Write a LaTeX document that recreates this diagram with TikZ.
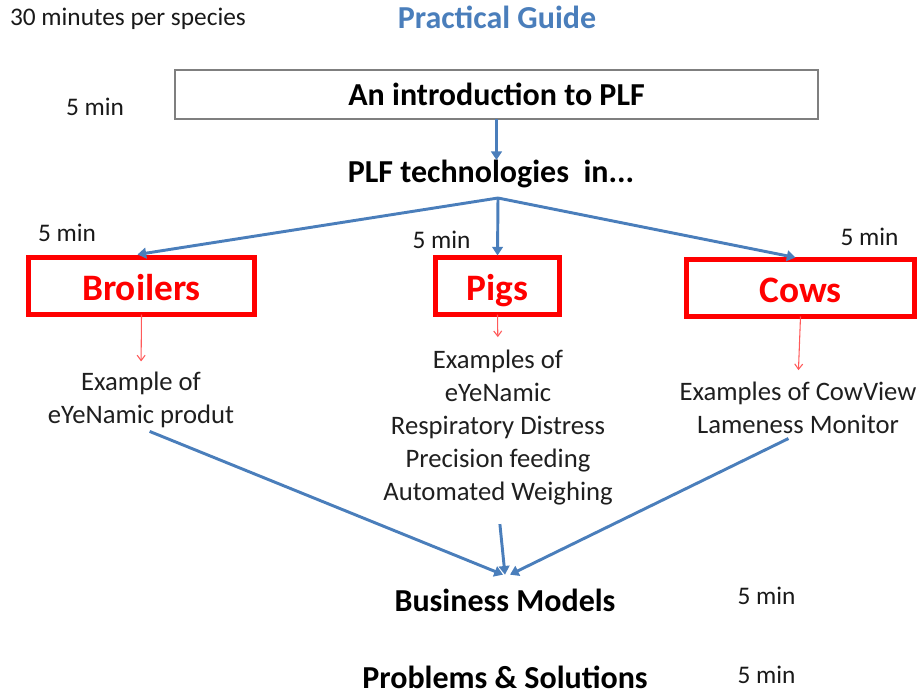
\documentclass[tikz,border=0pt]{standalone}
\usepackage{fontspec}
\setmainfont{Carlito}
\usetikzlibrary{arrows.meta,calc}
\definecolor{oblue}{HTML}{4A7EBB}
\definecolor{lred}{HTML}{FF5A5A}
\definecolor{sgray}{HTML}{7F7F7F}
\begin{document}
\begin{tikzpicture}[x=0.75pt,y=-0.75pt,
  every node/.style={inner sep=0pt, outer sep=0pt},
  small/.style={font=\fontsize{19}{23}\selectfont, text=black!90},
  body/.style={font=\fontsize{20}{24.75}\selectfont, align=center, text=black!88},
  head/.style={font=\fontsize{24}{29}\selectfont\bfseries, text=black},
  speciesbox/.style={draw=red, line width=3.75pt, font=\fontsize{28}{34}\selectfont\bfseries, text=red, minimum height=42.75pt, text height=21pt, text depth=0pt},
  bluearrow/.style={draw=oblue, line width=2.2pt, -{Triangle[width=8pt,length=6.5pt]}},
  redarrow/.style={draw=lred, line width=0.8pt, -{Straight Barb[width=6pt,length=4pt]}}
]
\useasboundingbox (0,0) rectangle (924,697);

\node[small, anchor=west] (species) at (10,19) {30 minutes per species};
\node[head, text=oblue] (title) at (497,17) {Practical Guide};

\node[head, draw=sgray, line width=1.1pt, minimum width=482pt, minimum height=36.75pt, text height=17pt, text depth=0pt] (intro) at (496.5,94.5) {An introduction to PLF};
\node[small] (introtime) at (95,107) {5 min};

\node[head] (plf) at (491,174) {PLF technologies\ \ in...};
\coordinate (hub) at (498,198);

\node[speciesbox, minimum width=169.5pt] (broilers) at (141.5,286) {Broilers};
\node[speciesbox, minimum width=93pt] (pigs) at (497.5,286) {Pigs};
\node[speciesbox, minimum width=171pt] (cows) at (800.5,288) {Cows};

\node[small] (t1) at (67,233) {5 min};
\node[small] (t2) at (441.5,240) {5 min};
\node[small] (t3) at (869.5,237) {5 min};

\node[body] (ex1) at (141,400) {Example of\\eYeNamic produt};
\node[body] (ex2) at (498,428) {Examples of\\eYeNamic\\Respiratory Distress\\Precision feeding\\Automated Weighing};
\node[body] (ex3) at (798,408) {Examples of CowView\\Lameness Monitor};

\node[head] (biz) at (505,600) {Business Models};
\node[small] (bizt) at (766.5,596) {5 min};
\node[head, text depth=0pt] (prob) at (505,677) {Problems \& Solutions};
\node[small] (probt) at (766.5,675) {5 min};

% connectors
\draw[bluearrow] (intro.south) -- (intro.south |- plf.north);
\draw[bluearrow] (hub) -- ($(broilers.north)+(-4,-3)$);
\draw[bluearrow] (hub) -- ($(pigs.north)+(0,-2)$);
\draw[bluearrow] (hub) -- ($(cows.north)+(-5,-2)$);

\draw[redarrow, shorten >=8pt] (broilers.south) -- (ex1.north);
\draw[redarrow, shorten >=10pt] (pigs.south) -- (ex2.north);
\draw[redarrow, shorten >=9pt] (cows.south) -- (ex3.north);

\draw[bluearrow, shorten <=7pt] (ex1.south) -- ($(biz.north)+(-2,-14)$);
\draw[bluearrow, shorten <=14pt] (ex2.south) -- ($(biz.north)+(0,-14)$);
\draw[bluearrow, shorten <=8pt] (ex3.south) -- ($(biz.north)+(5,-14)$);
\end{tikzpicture}
\end{document}
